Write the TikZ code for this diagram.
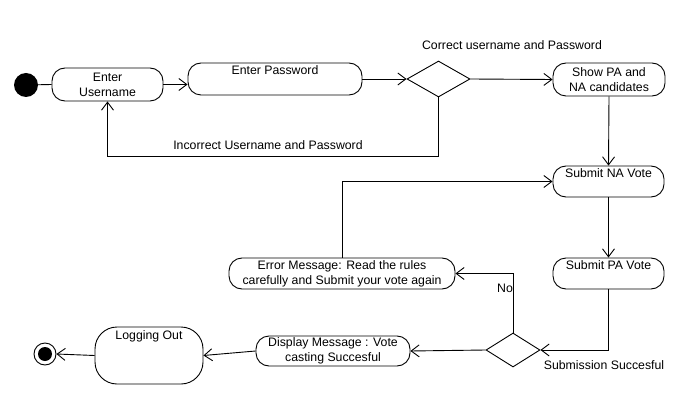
\documentclass[tikz,border=0pt]{standalone}
\usepackage{fontspec}
\setmainfont{Liberation Sans}
\usetikzlibrary{arrows.meta,shapes.geometric}
\begin{document}
\begin{tikzpicture}[x=1pt,y=-1pt,
  every node/.style={font=\fontsize{12.3}{15}\selectfont},
  act/.style={draw,line width=0.9pt,rounded corners=13pt,inner sep=0pt,align=center},
  dec/.style={draw,line width=0.9pt,diamond,inner sep=0pt},
  conn/.style={line width=0.9pt},
  arr/.style={line width=0.9pt,-{Straight Barb[length=8pt,width=12pt]}},
  lbl/.style={inner sep=0pt}
]
\useasboundingbox (0,0) rectangle (700,403);
\fill[white] (0,0) rectangle (700,403);

% nodes
\node[circle,fill=black,minimum size=24pt,inner sep=0pt] (start) at (26,85) {};
\node[act,minimum width=111pt,minimum height=33pt] (user) at (107.5,84.5) {Enter\\Username};
\node[act,minimum width=174pt,minimum height=32pt,
      label={[lbl,anchor=north,yshift=-3pt]north:Enter Password}] (pass) at (275,79) {};
\node[dec,minimum width=63pt,minimum height=36pt] (d1) at (438.5,79) {};
\node[act,minimum width=112pt,minimum height=33pt] (show) at (609,79.5) {Show PA and\\NA candidates};
\node[act,minimum width=111pt,minimum height=31pt,
      label={[lbl,anchor=north,yshift=-3pt]north:Submit NA Vote}] (na) at (608.5,181.5) {};
\node[act,minimum width=111pt,minimum height=31pt,
      label={[lbl,anchor=north,yshift=-3pt]north:Submit PA Vote}] (pa) at (608.5,273.5) {};
\node[act,minimum width=226pt,minimum height=31pt] (err) at (342,273.5) {Error Message: Read the rules\\carefully and Submit your vote again};
\node[dec,minimum width=54pt,minimum height=34pt] (d2) at (513,350) {};
\node[act,minimum width=154pt,minimum height=30pt] (disp) at (333,351) {Display Message : Vote\\casting Succesful};
\node[act,rounded corners=22pt,minimum width=108pt,minimum height=57pt,
      label={[lbl,anchor=north,yshift=-4pt]north:Logging Out}] (logout) at (149,355.5) {};
\node[circle,draw,line width=0.9pt,minimum size=22pt,inner sep=0pt] (endo) at (45,354) {};
\node[circle,fill=black,minimum size=14pt,inner sep=0pt] (endi) at (45,354) {};

\coordinate (c1) at (107.5,156);

% connectors
\draw[conn] (start) -- (user.west);
\draw[arr] (user.east) -- (user.east -| pass.west);
\draw[arr] (pass.east) -- (d1.west);
\draw[arr] (d1.east) -- (show.west);
\draw[arr] (d1.south) -- (d1.south |- c1) -- (c1) -- (user.south);
\draw[arr] (show.south) -- (na.north);
\draw[arr] (na.south) -- (pa.north);
\draw[arr] (pa.south) |- (d2.east);
\draw[arr] (d2.west) -- (disp.east);
\draw[arr] (d2.north) |- (err.east);
\draw[arr] (err.north) |- (na.west);
\draw[arr] (disp.west) -- (logout.east);
\draw[arr] (logout.west) -- (endo.east);

% labels
\node[lbl] (lcorrect) at (512,45) {Correct username and Password};
\node[lbl] (lincorrect) at (268,145) {Incorrect Username and Password};
\node[lbl] (lno) at (505,288) {No};
\node[lbl] (lsucc) at (604,365) {Submission Succesful};
\end{tikzpicture}
\end{document}
